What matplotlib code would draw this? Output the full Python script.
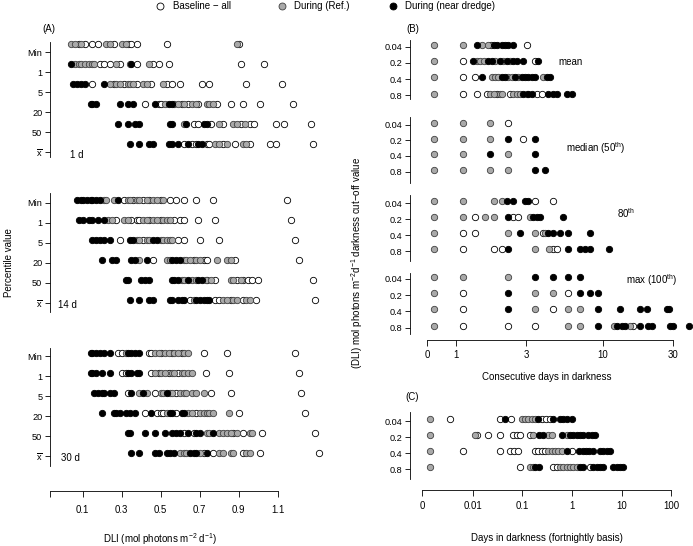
import numpy as np
import matplotlib
matplotlib.use('Agg')
import matplotlib.pyplot as plt
from matplotlib.ticker import NullLocator

plt.rcParams['font.family'] = ['Liberation Sans', 'DejaVu Sans']
plt.rcParams['mathtext.fontset'] = 'custom'
plt.rcParams['mathtext.rm'] = 'Liberation Sans'
plt.rcParams['mathtext.it'] = 'Liberation Sans:italic'

# ---------------- DATA ----------------
groups = ['base', 'ref', 'near']
legend_labels = ['Baseline \u2212 all', 'During (Ref.)', 'During (near dredge)']
pct_rows = ['Min', '1', '5', '20', '50', r'$\overline{\mathrm{x}}$']
cut_rows = ['0.04', '0.2', '0.4', '0.8']
a_titles = ['1 d', '14 d', '30 d']
b_titles = ['mean', r'median (50$^{\mathrm{th}}$)', r'80$^{\mathrm{th}}$', r'max (100$^{\mathrm{th}}$)']
a_xticks = [0.1, 0.3, 0.5, 0.7, 0.9, 1.1]
b_xticks = [1, 3, 10, 30]
c_xticks = [0.01, 0.1, 1, 10, 100]

# Panel A, 1 d  (rows: Min, 1, 5, 20, 50, mean)
a1_base = [
    [0.08, 0.11, 0.15, 0.18, 0.26, 0.33, 0.35, 0.38, 0.53, 0.90],
    [0.19, 0.21, 0.24, 0.29, 0.38, 0.46, 0.49, 0.54, 0.91, 1.03],
    [0.15, 0.26, 0.31, 0.38, 0.45, 0.53, 0.56, 0.60, 0.71, 0.75, 0.94, 1.12],
    [0.42, 0.49, 0.50, 0.61, 0.64, 0.69, 0.79, 0.86, 0.92, 1.01, 1.18],
    [0.67, 0.69, 0.76, 0.82, 0.91, 0.96, 0.98, 1.09, 1.13, 1.27],
    [0.62, 0.66, 0.68, 0.74, 0.75, 0.82, 0.88, 0.96, 1.06, 1.09, 1.28],
]
a1_ref = [
    [0.04, 0.06, 0.09, 0.22, 0.24, 0.30, 0.32, 0.89],
    [0.06, 0.08, 0.09, 0.11, 0.13, 0.15, 0.16, 0.27, 0.34, 0.44],
    [0.24, 0.27, 0.29, 0.33, 0.34, 0.36, 0.41, 0.43, 0.51],
    [0.52, 0.57, 0.59, 0.62, 0.66, 0.68, 0.74, 0.75, 0.77],
    [0.62, 0.80, 0.87, 0.89, 0.93],
    [0.78, 0.80, 0.84, 0.92, 0.94],
]
a1_near = [
    [],
    [0.04, 0.35],
    [0.05, 0.07, 0.09, 0.11, 0.21],
    [0.14, 0.15, 0.17, 0.29, 0.33, 0.36, 0.47, 0.54, 0.56],
    [0.28, 0.33, 0.37, 0.39, 0.55, 0.56, 0.63, 0.72, 0.74],
    [0.34, 0.39, 0.44, 0.46, 0.54, 0.56, 0.59, 0.64, 0.69, 0.71],
]

# Panel A, 14 d
a14_base = [
    [0.31, 0.36, 0.41, 0.44, 0.50, 0.55, 0.58, 0.62, 0.68, 0.77, 1.15],
    [0.27, 0.35, 0.38, 0.39, 0.44, 0.50, 0.57, 0.60, 0.62, 0.69, 0.78, 1.17],
    [0.29, 0.41, 0.59, 0.62, 0.70, 0.80, 1.19],
    [0.46, 0.67, 0.72, 0.74, 0.88, 1.21],
    [0.74, 0.78, 0.89, 0.92, 0.95, 0.97, 1.00, 1.28],
    [0.65, 0.78, 0.80, 0.86, 0.92, 0.99, 1.29],
]
a14_ref = [
    [0.21, 0.22, 0.26, 0.33, 0.34, 0.38, 0.39, 0.43, 0.46, 0.48, 0.51],
    [0.23, 0.25, 0.31, 0.33, 0.41, 0.43, 0.46, 0.48, 0.51, 0.53, 0.55],
    [0.38, 0.39, 0.43, 0.44, 0.50, 0.51, 0.53, 0.55, 0.56],
    [0.39, 0.53, 0.55, 0.62, 0.63, 0.65, 0.68, 0.70, 0.79, 0.84, 0.86],
    [0.61, 0.62, 0.66, 0.68, 0.73, 0.76, 0.86, 0.87, 0.91],
    [0.67, 0.82, 0.84, 0.87, 0.89, 0.94, 0.96],
]
a14_near = [
    [0.07, 0.09, 0.10, 0.12, 0.14, 0.15, 0.17, 0.19, 0.28],
    [0.08, 0.10, 0.13, 0.15, 0.18, 0.21],
    [0.15, 0.17, 0.19, 0.21, 0.24, 0.34, 0.36, 0.46, 0.48],
    [0.20, 0.25, 0.27, 0.35, 0.37, 0.43, 0.56, 0.58, 0.60],
    [0.32, 0.33, 0.40, 0.42, 0.44, 0.56, 0.57, 0.59, 0.64, 0.69, 0.71],
    [0.34, 0.39, 0.44, 0.46, 0.55, 0.56, 0.59, 0.61, 0.62, 0.68, 0.70, 0.72, 0.74, 0.75],
]

# Panel A, 30 d
a30_base = [
    [0.28, 0.30, 0.44, 0.45, 0.50, 0.56, 0.61, 0.72, 0.84, 1.19],
    [0.30, 0.32, 0.45, 0.49, 0.54, 0.59, 0.73, 0.85, 1.21],
    [0.33, 0.47, 0.58, 0.76, 0.86, 1.22],
    [0.42, 0.48, 0.50, 0.51, 0.58, 0.68, 0.90, 1.24],
    [0.62, 0.67, 0.87, 0.92, 1.02, 1.29],
    [0.72, 0.77, 0.92, 1.01, 1.31],
]
a30_ref = [
    [0.32, 0.47, 0.49, 0.52, 0.54, 0.57, 0.59, 0.62, 0.64],
    [0.47, 0.50, 0.52, 0.56, 0.57, 0.61, 0.62, 0.64, 0.66],
    [0.39, 0.43, 0.50, 0.51, 0.55, 0.56, 0.60, 0.62, 0.63, 0.66, 0.68, 0.72],
    [0.53, 0.64, 0.66, 0.70, 0.72, 0.74, 0.75, 0.77, 0.85],
    [0.74, 0.75, 0.80, 0.82, 0.84, 0.86, 0.89, 0.96, 0.97],
    [0.60, 0.62, 0.63, 0.70, 0.80, 0.82, 0.86, 0.87, 0.94, 0.96],
]
a30_near = [
    [0.14, 0.15, 0.17, 0.19, 0.21, 0.24, 0.33, 0.35, 0.37, 0.39],
    [0.14, 0.15, 0.17, 0.20, 0.24, 0.33, 0.35, 0.38, 0.39],
    [0.16, 0.18, 0.20, 0.21, 0.24, 0.26, 0.35, 0.41, 0.53],
    [0.20, 0.26, 0.27, 0.29, 0.32, 0.34, 0.37, 0.45, 0.55, 0.56, 0.61, 0.62],
    [0.33, 0.34, 0.42, 0.47, 0.52, 0.56, 0.58, 0.60, 0.64, 0.68, 0.70, 0.77],
    [0.35, 0.39, 0.47, 0.49, 0.53, 0.55, 0.57, 0.65, 0.67, 0.68, 0.74],
]

# Panel B: consecutive days in darkness (rows: 0.04, 0.2, 0.4, 0.8)
b_base = {
    'mean':   [[1.74, 3.03], [1.12, 3.45], [1.12, 1.35], [1.12, 1.40, 1.62, 1.89, 2.33, 3.54, 3.83]],
    'median': [[2.27], [2.84], [], []],
    '80th':   [[3.45, 4.59], [1.35, 2.45, 2.65], [1.12, 1.35, 3.89], [1.12, 1.80, 2.04, 4.59, 4.84]],
    'max':    [[], [1.12, 5.81], [1.12, 4.59], [1.12, 2.27, 3.45, 16.1]],
}
b_ref = {
    'mean':   [[0.71, 1.12, 1.50, 1.66], [0.71, 1.38, 1.45, 1.54, 1.85, 2.10, 2.33],
               [0.71, 1.75, 1.85, 1.94, 2.27, 2.39, 2.65, 3.93],
               [0.71, 1.70, 1.80, 1.99, 2.05, 2.45, 2.59, 2.72, 3.03]],
    'median': [[0.71, 1.12, 1.70], [0.71, 1.12, 1.70], [0.71, 1.12, 2.27], [0.71, 1.12, 1.70, 2.27]],
    '80th':   [[0.71, 1.12, 1.80, 2.04], [0.71, 1.12, 1.57, 1.82, 3.19], [0.71, 2.27, 3.45, 4.03],
               [0.71, 3.45, 4.32]],
    'max':    [[0.71, 1.12, 2.27], [0.71, 3.45, 4.59], [0.71, 3.45, 5.81, 6.98],
               [0.71, 5.81, 6.98, 11.8, 15.3]],
}
b_near = {
    'mean':   [[1.38, 1.80, 1.89, 2.04, 2.15, 2.27, 2.45],
               [1.31, 1.66, 1.75, 1.99, 2.21, 2.45, 2.59, 2.87, 3.63],
               [1.50, 2.04, 2.15, 2.52, 2.80, 2.95, 3.11, 3.28, 3.45, 4.14, 4.36],
               [2.87, 3.11, 3.28, 4.25, 4.59, 4.84, 5.66, 6.12]],
    'median': [[], [2.27, 3.45], [1.70, 3.45], [3.45, 4.03]],
    '80th':   [[2.21, 2.45, 2.95, 3.11], [2.27, 3.36, 3.54, 3.73, 5.37],
               [2.72, 4.25, 4.59, 5.10, 5.81, 8.16], [2.27, 5.81, 6.98, 7.55, 8.16, 11.0]],
    'max':    [[3.45, 4.59, 5.81, 6.98], [2.27, 6.98, 8.16, 9.29],
               [2.27, 9.29, 13.05, 17.9, 19.8, 27.1, 28.3],
               [9.29, 12.4, 13.4, 14.1, 17.9, 20.3, 21.4, 28.5, 30.1, 38.7]],
}

# Panel C: days in darkness (fortnightly basis)
c_base = [[0.0035, 0.035, 0.058, 0.244, 0.298, 0.36],
          [0.0123, 0.0204, 0.035, 0.065, 0.076, 0.089, 0.142],
          [0.0062, 0.035, 0.056, 0.067, 0.082, 0.179, 0.209, 0.244, 0.285, 0.98],
          [0.089, 0.42, 0.49, 2.31]]
c_ref = [[0.00135, 0.096, 0.112, 0.131, 0.153, 0.179],
         [0.00135, 0.011, 0.166, 0.333, 0.388, 0.78],
         [0.00135, 0.333, 0.388, 0.454, 0.53, 0.62],
         [0.00135, 0.142, 0.166, 0.57, 0.67, 0.78, 0.91, 1.06, 1.24]]
c_near = [[0.044, 0.209, 0.42, 0.57, 0.67, 0.78, 0.98],
          [0.219, 0.255, 0.62, 0.91, 1.06, 1.24, 1.45, 1.69, 2.14, 2.5, 2.91],
          [0.78, 1.41, 1.64, 1.92, 2.24, 2.62, 3.68, 4.3, 5.0, 5.86],
          [0.18, 0.22, 1.45, 1.69, 2.7, 3.15, 3.68, 4.3, 6.8, 7.98, 9.3, 10.9]]

# ---------------- STYLE / LAYOUT ----------------
W, H = 693, 546
fig = plt.figure(figsize=(W / 100, H / 100), dpi=100)
STY = {'base': dict(facecolor='white', edgecolor='black', zorder=3),
       'ref': dict(facecolor='#a9a9a9', edgecolor='#404040', zorder=4),
       'near': dict(facecolor='black', edgecolor='black', zorder=5)}
MS = 21
LW = 0.6
FS = 6.6


def add_ax(x0, y0, x1, y1):
    return fig.add_axes([x0 / W, 1 - y1 / H, (x1 - x0) / W, (y1 - y0) / H])


def row_panel(box, p0, sp, toff, xlim, log, data, labels):
    ax = add_ax(*box)
    if log:
        ax.set_xscale('log')
    ax.set_xlim(*xlim)
    T, B = box[1], box[3]
    ax.set_ylim((B - p0) / sp, (T - p0) / sp)
    for g in groups:
        for i, vals in enumerate(data[g]):
            if len(vals):
                ax.scatter(vals, np.full(len(vals), i), s=MS, linewidths=LW,
                           clip_on=False, **STY[g])
    ax.set_yticks(np.arange(len(labels)) + toff)
    ax.set_yticklabels(labels, fontsize=FS)
    ax.tick_params(axis='y', length=3.5, width=LW, pad=2)
    ax.set_xticks([])
    ax.xaxis.set_minor_locator(NullLocator())
    for s in ('top', 'right', 'bottom'):
        ax.spines[s].set_visible(False)
    ax.spines['left'].set_linewidth(LW)
    ax.patch.set_alpha(0)
    return ax


def x_axis(box, xlim, log, ticks, labels, bounds, pad):
    ax = add_ax(*box)
    if log:
        ax.set_xscale('log')
    ax.set_xlim(*xlim)
    ax.set_xticks(ticks)
    ax.set_xticklabels(labels, fontsize=FS + 0.3)
    ax.xaxis.set_minor_locator(NullLocator())
    ax.tick_params(axis='x', length=4, width=LW, pad=pad)
    ax.set_yticks([])
    for s in ('top', 'right', 'left'):
        ax.spines[s].set_visible(False)
    ax.spines['bottom'].set_linewidth(LW)
    ax.spines['bottom'].set_bounds(*bounds)
    ax.patch.set_alpha(0)
    return ax


# Panel A
a_xlim = (-0.0677, 1.3836)
a_sets = [dict(base=a1_base, ref=a1_ref, near=a1_near),
          dict(base=a14_base, ref=a14_ref, near=a14_near),
          dict(base=a30_base, ref=a30_ref, near=a30_near)]
a_boxes = [((50, 42, 333, 157), 44, 0.4), ((50, 193, 333, 312), 200, 0.15),
           ((50, 348, 333, 466), 353, 0.15)]
for (box, p0, toff), d in zip(a_boxes, a_sets):
    row_panel(box, p0, 20, toff, a_xlim, False, d, pct_rows)
x_axis((50, 490, 333, 491), a_xlim, False, [a_xlim[0]] + a_xticks,
       [''] + [f'{t:g}' for t in a_xticks], (a_xlim[0], 1.1), 6)

# Panel B
b_xlim = (0.4865, 40.96)
b_zero = 0.635
b_boxes = [((410, 40, 693, 99), 45, 16.2, 0.1), ((410, 117, 693, 183), 123, 15.7, 0.1),
           ((410, 195, 693, 261), 201, 16.0, 0.15), ((410, 273, 693, 334), 277, 16.2, 0.12)]
for (box, p0, sp, toff), key in zip(b_boxes, ['mean', 'median', '80th', 'max']):
    row_panel(box, p0, sp, toff, b_xlim, True,
              dict(base=b_base[key], ref=b_ref[key], near=b_near[key]), cut_rows)
x_axis((410, 339, 693, 340), b_xlim, True, [b_zero] + b_xticks,
       ['0'] + [f'{t:g}' for t in b_xticks], (b_zero, 30), 3)

# Panel C
c_xlim = (5.34e-4, 278)
c_zero = 9.3e-4
row_panel((410, 412, 693, 479), 419, 16.0, 0.15, c_xlim, True,
          dict(base=c_base, ref=c_ref, near=c_near), cut_rows)
x_axis((410, 489, 693, 490), c_xlim, True, [c_zero] + c_xticks,
       ['0'] + [f'{t:g}' for t in c_xticks], (c_zero, 100), 4)

# Overlay for text and legend (pixel coordinates)
ov = fig.add_axes([0, 0, 1, 1])
ov.set_xlim(0, W)
ov.set_ylim(H, 0)
ov.axis('off')
ov.patch.set_alpha(0)

TF = 7
for (x, y), t in zip([(70, 155), (58, 305), (61, 458)], a_titles):
    ov.text(x, y, t, fontsize=TF, va='center', ha='left')
for (x, y), t in zip([(558, 62), (566, 148), (617, 213), (626, 280)], b_titles):
    ov.text(x, y, t, fontsize=TF, va='center', ha='left')
ov.text(42, 29, '(A)', fontsize=TF, va='center', ha='left')
ov.text(406, 29, '(B)', fontsize=TF, va='center', ha='left')
ov.text(405, 397, '(C)', fontsize=TF, va='center', ha='left')

ov.text(160, 539, r'DLI (mol photons m$^{-2}$ d$^{-1}$)', fontsize=TF, ha='center', va='center')
ov.text(547, 377, 'Consecutive days in darkness', fontsize=TF, ha='center', va='center')
ov.text(547, 538, 'Days in darkness (fortnightly basis)', fontsize=TF, ha='center', va='center')
ov.text(9, 263, 'Percentile value', fontsize=TF, rotation=90, ha='center', va='center')
ov.text(357, 263, r'(DLI) mol photons m$^{-2}$d$^{-1}$ darkness cut$-$off value',
        fontsize=TF, rotation=90, ha='center', va='center')

# Legend
for (mx, tx), g, lab in zip([(160, 173), (282, 294), (393, 405)], groups, legend_labels):
    ov.scatter([mx], [6], s=MS + 4, linewidths=LW, clip_on=False, **STY[g])
    ov.text(tx, 6, lab, fontsize=TF, va='center', ha='left')

fig.savefig('out.png', dpi=100)
